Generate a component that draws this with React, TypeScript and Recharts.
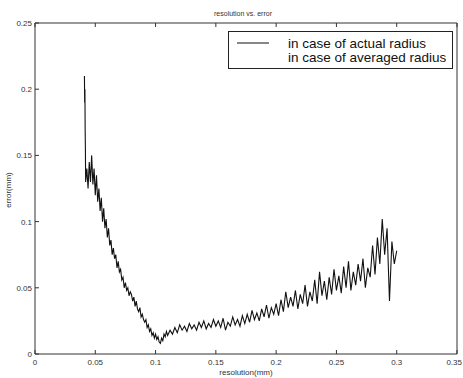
import React from 'react';
import { LineChart, Line, XAxis, YAxis, Customized } from 'recharts';

const resolution = [
  0.041, 0.0412, 0.0414, 0.0416, 0.0418, 0.042, 0.043, 0.044, 0.045, 0.046,
  0.047, 0.048, 0.049, 0.05, 0.051, 0.052, 0.053, 0.054, 0.055, 0.056,
  0.057, 0.058, 0.059, 0.06, 0.061, 0.062, 0.063, 0.064, 0.065, 0.066,
  0.067, 0.068, 0.069, 0.07, 0.071, 0.072, 0.073, 0.074, 0.075, 0.076,
  0.077, 0.078, 0.079, 0.08, 0.081, 0.082, 0.083, 0.084, 0.085, 0.086,
  0.087, 0.088, 0.089, 0.09, 0.091, 0.092, 0.093, 0.094, 0.095, 0.096,
  0.097, 0.098, 0.099, 0.1, 0.101, 0.102, 0.103, 0.104, 0.105, 0.106,
  0.107, 0.108, 0.109, 0.11, 0.112, 0.114, 0.116, 0.118, 0.12, 0.122,
  0.124, 0.126, 0.128, 0.13, 0.132, 0.134, 0.136, 0.138, 0.14, 0.142,
  0.144, 0.146, 0.148, 0.15, 0.152, 0.154, 0.156, 0.158, 0.16, 0.162,
  0.164, 0.166, 0.168, 0.17, 0.172, 0.174, 0.176, 0.178, 0.18, 0.182,
  0.184, 0.186, 0.188, 0.19, 0.192, 0.194, 0.196, 0.198, 0.2, 0.202,
  0.204, 0.206, 0.208, 0.21, 0.212, 0.214, 0.216, 0.218, 0.22, 0.222,
  0.224, 0.226, 0.228, 0.23, 0.232, 0.234, 0.236, 0.238, 0.24, 0.242,
  0.244, 0.246, 0.248, 0.25, 0.252, 0.254, 0.256, 0.258, 0.26, 0.262,
  0.264, 0.266, 0.268, 0.27, 0.272, 0.274, 0.276, 0.278, 0.28, 0.282,
  0.284, 0.286, 0.288, 0.29, 0.292, 0.294, 0.296, 0.298, 0.3,
];

const errorActual = [
  0.21, 0.19, 0.2, 0.17, 0.155, 0.13, 0.14, 0.125, 0.145, 0.13,
  0.15, 0.128, 0.14, 0.12, 0.135, 0.115, 0.125, 0.108, 0.118, 0.1,
  0.11, 0.095, 0.102, 0.088, 0.095, 0.082, 0.086, 0.075, 0.08, 0.072,
  0.075, 0.065, 0.07, 0.062, 0.064, 0.056, 0.058, 0.05, 0.054, 0.048,
  0.05, 0.044, 0.047, 0.045, 0.04, 0.043, 0.036, 0.04, 0.034, 0.032,
  0.035, 0.028, 0.03, 0.026, 0.024, 0.026, 0.02, 0.022, 0.017, 0.019,
  0.014, 0.016, 0.012, 0.015, 0.011, 0.013, 0.009, 0.008, 0.012, 0.01,
  0.015, 0.013, 0.017, 0.014, 0.018, 0.015, 0.02, 0.016, 0.022, 0.018,
  0.021, 0.017, 0.023, 0.019, 0.022, 0.018, 0.024, 0.02, 0.025, 0.019,
  0.023, 0.02, 0.026, 0.021, 0.025, 0.02, 0.027, 0.018, 0.024, 0.021,
  0.028, 0.022, 0.026, 0.021, 0.029, 0.023, 0.03, 0.024, 0.033, 0.026,
  0.031, 0.025, 0.034, 0.028, 0.037, 0.027, 0.035, 0.03, 0.038, 0.029,
  0.041, 0.032, 0.047, 0.035, 0.043, 0.036, 0.048, 0.034, 0.045, 0.038,
  0.052, 0.036, 0.047, 0.04, 0.056, 0.038, 0.062, 0.044, 0.055, 0.041,
  0.058, 0.045, 0.064, 0.048, 0.059, 0.046, 0.066, 0.05, 0.07, 0.048,
  0.062, 0.052, 0.068, 0.055, 0.072, 0.05, 0.065, 0.058, 0.082, 0.06,
  0.088, 0.068, 0.102, 0.075, 0.095, 0.04, 0.085, 0.068, 0.078,
];

const xTicks = [0, 0.05, 0.1, 0.15, 0.2, 0.25, 0.3, 0.35];
const xTickLabels = ['0', '0.05', '0.1', '0.15', '0.2', '0.25', '0.3', '0.35'];
const yTicks = [0, 0.05, 0.1, 0.15, 0.2, 0.25];
const yTickLabels = ['0', '0.05', '0.1', '0.15', '0.2', '0.25'];

const titleText = 'resolution vs. error';
const xLabel = 'resolution(mm)';
const yLabel = 'error(mm)';
const seriesNames = ['in case of actual radius', 'in case of averaged radius'];

const data = resolution.map((r, i) => ({ r, e: errorActual[i] }));

const AX = '#333';
const FONT = 'Liberation Sans, Arial, sans-serif';

const BottomTick = (props: any) => {
  const { x, y, index } = props;
  const last = index === xTickLabels.length - 1;
  return (
    <g>
      <line x1={x} y1={y} x2={x} y2={y - 4} stroke={AX} />
      <text
        x={last ? x + 5 : x}
        y={y + 11}
        textAnchor={last ? 'end' : 'middle'}
        fontSize={8}
        fill="#333"
        fontFamily={FONT}
      >
        {xTickLabels[index]}
      </text>
    </g>
  );
};
const TopTick = (props: any) => {
  const { x, y } = props;
  return <line x1={x} y1={y} x2={x} y2={y + 4} stroke={AX} />;
};
const LeftTick = (props: any) => {
  const { x, y, index } = props;
  return (
    <g>
      <line x1={x} y1={y} x2={x + 4} y2={y} stroke={AX} />
      <text x={x - 3} y={y + 3} textAnchor="end" fontSize={8} fill="#333" fontFamily={FONT}>
        {yTickLabels[index]}
      </text>
    </g>
  );
};
const RightTick = (props: any) => {
  const { x, y } = props;
  return <line x1={x} y1={y} x2={x - 4} y2={y} stroke={AX} />;
};

const Overlay = () => (
  <g fontFamily={FONT}>
    <text x={243} y={16} textAnchor="middle" fontSize={7} fill="#333">{titleText}</text>
    <text x={246} y={375} textAnchor="middle" fontSize={8} fill="#333">{xLabel}</text>
    <text x={11} y={190} textAnchor="middle" fontSize={8} fill="#333" transform="rotate(-90 11 190)">{yLabel}</text>
    <rect x={228.5} y={31.5} width={224} height={37} fill="#fff" stroke="#222" />
    <line x1={237} y1={43} x2={269} y2={43} stroke="#111" strokeWidth={1} />
    <text x={288} y={47.5} fontSize={13.5} fill="#111">{seriesNames[0]}</text>
    <text x={288} y={61.5} fontSize={13.5} fill="#111">{seriesNames[1]}</text>
  </g>
);

export default function App() {
  return (
    <div style={{ position: 'absolute', left: 0, top: 0, width: 463, height: 378, background: '#fff' }}>
      <LineChart
        width={463}
        height={378}
        data={data}
        margin={{ top: 0, right: 0, bottom: 0, left: 0 }}
      >
        <XAxis
          xAxisId="b"
          dataKey="r"
          type="number"
          domain={[0, 0.35]}
          ticks={xTicks}
          height={24}
          tickSize={0}
          tickMargin={0}
          tickLine={false}
          axisLine={{ stroke: AX }}
          tick={<BottomTick />}
          interval={0}
          allowDataOverflow
        />
        <XAxis
          xAxisId="t"
          orientation="top"
          dataKey="r"
          type="number"
          domain={[0, 0.35]}
          ticks={xTicks}
          height={23}
          tickSize={0}
          tickMargin={0}
          tickLine={false}
          axisLine={{ stroke: AX }}
          tick={<TopTick />}
          interval={0}
        />
        <YAxis
          yAxisId="l"
          type="number"
          domain={[0, 0.25]}
          ticks={yTicks}
          width={35}
          tickSize={0}
          tickMargin={0}
          tickLine={false}
          axisLine={{ stroke: AX }}
          tick={<LeftTick />}
          interval={0}
          allowDataOverflow
        />
        <YAxis
          yAxisId="r"
          orientation="right"
          type="number"
          domain={[0, 0.25]}
          ticks={yTicks}
          width={6}
          tickSize={0}
          tickMargin={0}
          tickLine={false}
          axisLine={{ stroke: AX }}
          tick={<RightTick />}
          interval={0}
        />
        <Line
          xAxisId="b"
          yAxisId="l"
          dataKey="e"
          name={seriesNames[0]}
          type="linear"
          stroke="#111"
          strokeWidth={1.1}
          dot={false}
          isAnimationActive={false}
        />
        <Customized component={Overlay} />
      </LineChart>
    </div>
  );
}
